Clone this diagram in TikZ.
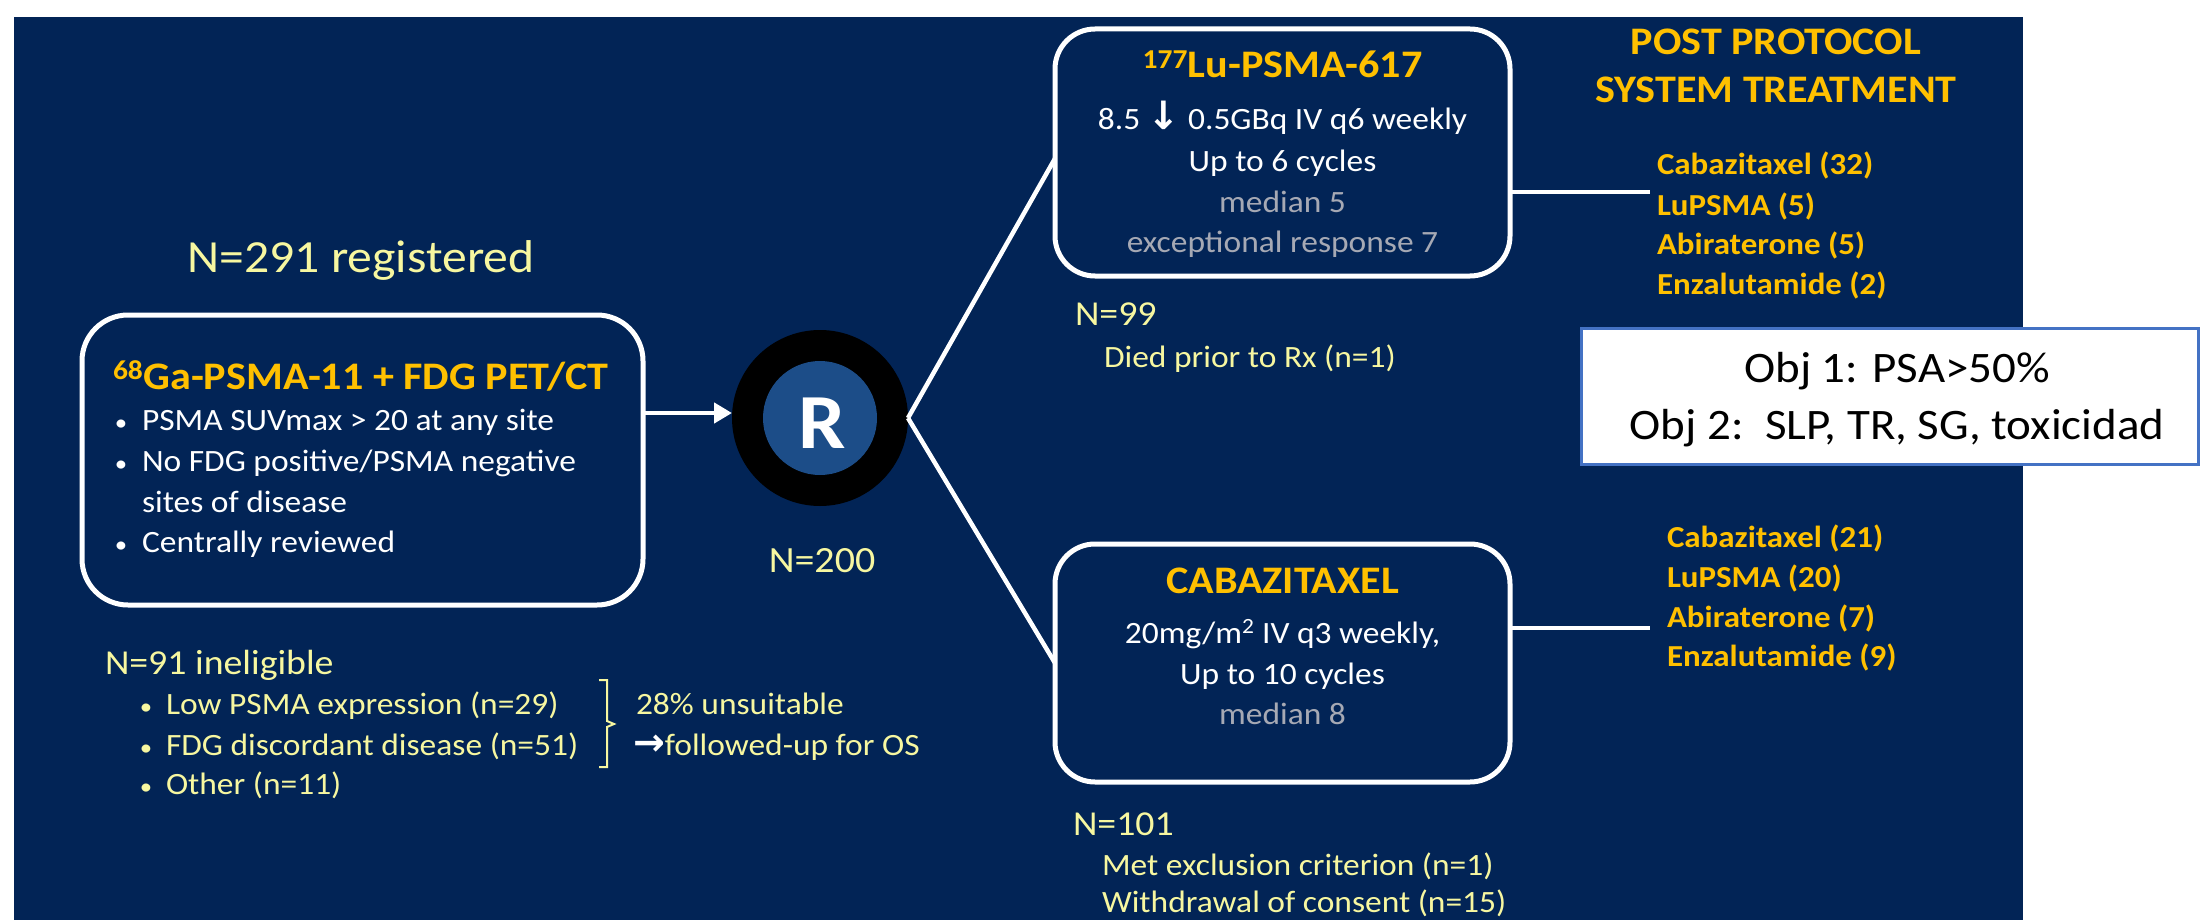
\documentclass[tikz,border=0pt]{standalone}
\usepackage{fontspec}
\setmainfont[FakeStretch=1.08]{Carlito}
\newfontfamily\arrowfont{DejaVu Sans}
\usetikzlibrary{arrows.meta}
\definecolor{navy}{HTML}{022456}
\definecolor{paleyel}{HTML}{F7F7A0}
\definecolor{gold}{HTML}{FFC000}
\definecolor{softgrey}{HTML}{A6A9B4}
\definecolor{rblue}{HTML}{1C4D88}
\definecolor{objblue}{HTML}{4472C4}
\newcommand{\setfs}[1]{\fontsize{#1}{#1}\selectfont}
\newcommand{\blt}{{\setfs{23}\textbullet}}

\begin{document}
\begin{tikzpicture}[x=1pt,y=-1pt,
  lbl/.style={inner sep=0pt, outer sep=0pt},
  pale/.style={lbl, text=paleyel, font=\setfs{31}},
  nlbl/.style={lbl, text=paleyel, font=\setfs{35}},
  body/.style={lbl, text=white, font=\setfs{31}},
  note/.style={lbl, text=softgrey, font=\setfs{31}},
  head/.style={lbl, text=gold, font=\setfs{39}\bfseries},
  rx/.style={lbl, text=gold, font=\setfs{30.5}\bfseries},
  obj/.style={lbl, text=black, font=\setfs{43.5}},
  stagebox/.style={draw=white, line width=5pt, rounded corners=40pt, fill=navy, inner sep=0pt, outer sep=0pt},
  wire/.style={draw=white, line width=4.5pt},
]
\useasboundingbox (0,0) rectangle (2200,920);
% page and slide background
\fill[white] (0,0) rectangle (2200,920);
\fill[navy] (14,17) rectangle (2023,920);

% ---------- screening ----------
\node[lbl, text=paleyel, font=\setfs{46}, anchor=base] (reg) at (361,272) {N=291 registered};
\node[stagebox, rounded corners=46pt, minimum width=561pt, minimum height=290pt] (ga) at (362.5,460) {};
\node[head, anchor=base west] (gatitle) at (113,389) {\textsuperscript{68}Ga-PSMA-11 + FDG PET/CT};
\node[body, anchor=base] (gab1) at (121,430) {\blt};
\node[body, anchor=base west] (gat1) at (142,430) {PSMA SUVmax > 20 at any site};
\node[body, anchor=base] (gab2) at (121,471) {\blt};
\node[body, anchor=base west] (gat2) at (142,471) {No FDG positive/PSMA negative};
\node[body, anchor=base west] (gat3) at (142,512) {sites of disease};
\node[body, anchor=base] (gab4) at (121,552) {\blt};
\node[body, anchor=base west] (gat4) at (142,552) {Centrally reviewed};

% ---------- ineligible ----------
\node[nlbl, anchor=base west] (inel) at (105,674) {N=91 ineligible};
\node[pale, anchor=base] (ib1) at (146,714) {\blt};
\node[pale, anchor=base west] (it1) at (166,714) {Low PSMA expression (n=29)};
\node[pale, anchor=base] (ib2) at (146,755) {\blt};
\node[pale, anchor=base west] (it2) at (166,755) {FDG discordant disease (n=51)};
\node[pale, anchor=base] (ib3) at (146,794) {\blt};
\node[pale, anchor=base west] (it3) at (166,794) {Other (n=11)};
\draw[paleyel, line width=2pt] (599,680) -- (607,680) -- (607,721) -- (614,724) -- (607,727) -- (607,767) -- (599,767);
\node[pale, anchor=base west] (unsuit) at (636,714) {28\% unsuitable};
\node[pale, anchor=base west] (fup) at (633,755) {{\arrowfont\bfseries\color{white}\setfs{38}→}followed-up for OS};

% ---------- randomisation ----------
\node[circle, fill=black, minimum size=176pt, inner sep=0pt, outer sep=0pt] (Rc) at (820,418) {};
\node[circle, fill=rblue, minimum size=114pt, inner sep=0pt] (Rin) at (Rc) {};
\node[lbl, text=white, font=\setfs{78}\bfseries, anchor=base] (Rlet) at (822,448) {R};
\node[lbl, text=paleyel, font=\setfs{37}, anchor=base] (n200) at (822,572) {N=200};

\draw[wire, -{Triangle[length=18pt,width=20pt]}] ([yshift=5pt]ga.east |- Rc.west) -- ([yshift=5pt]Rc.west);

% ---------- arms ----------
\node[stagebox, minimum width=455pt, minimum height=247pt] (lu) at (1282.5,152.5) {};
\node[head, anchor=base] (lutitle) at (1282.5,78) {\textsuperscript{177}Lu-PSMA-617};
\node[body, anchor=base] (lu1) at (1282.5,130) {8.5 {\arrowfont\bfseries\setfs{39}↓} 0.5GBq IV q6 weekly};
\node[body, anchor=base] (lu2) at (1282.5,172) {Up to 6 cycles};
\node[note, anchor=base] (lu3) at (1282.5,213) {median 5};
\node[note, anchor=base] (lu4) at (1282.5,252) {exceptional response 7};

\node[stagebox, minimum width=455pt, minimum height=238pt] (cab) at (1282.5,663) {};
\node[head, anchor=base] (cabtitle) at (1282.5,593) {CABAZITAXEL};
\node[body, anchor=base] (cab1) at (1282.5,643) {20mg/m\textsuperscript{2} IV q3 weekly,};
\node[body, anchor=base] (cab2) at (1282.5,684) {Up to 10 cycles};
\node[note, anchor=base] (cab3) at (1282.5,724) {median 8};

\draw[wire] (Rc.east) -- ([yshift=-6pt]lu.west);
\draw[wire] (Rc.east) -- (cab.west);

\node[nlbl, anchor=base west] (n99) at (1075,325) {N=99};
\node[pale, anchor=base west] (died) at (1104,367) {Died prior to Rx (n=1)};
\node[nlbl, anchor=base west] (n101) at (1073,835) {N=101};
\node[pale, anchor=base west] (excl) at (1102,875) {Met exclusion criterion (n=1)};
\node[pale, anchor=base west] (wdr) at (1102,912) {Withdrawal of consent (n=15)};

% ---------- post-protocol treatment ----------
\node[head, anchor=base] (pp1) at (1776,55) {POST PROTOCOL};
\node[head, anchor=base] (pp2) at (1776,103) {SYSTEM TREATMENT};

\coordinate (luend) at (1650,192);
\draw[wire] (lu.east |- luend) -- (luend);
\node[rx, anchor=base west] (la) at (1657,175) {Cabazitaxel (32)};
\node[rx, anchor=base west] (lb) at (1657,215) {LuPSMA (5)};
\node[rx, anchor=base west] (lc) at (1657,254) {Abiraterone (5)};
\node[rx, anchor=base west] (ld) at (1657,294) {Enzalutamide (2)};

\coordinate (cabend) at (1650,628);
\draw[wire] (cab.east |- cabend) -- (cabend);
\node[rx, anchor=base west] (ca) at (1667,547) {Cabazitaxel (21)};
\node[rx, anchor=base west] (cb) at (1667,587) {LuPSMA (20)};
\node[rx, anchor=base west] (cc) at (1667,627) {Abiraterone (7)};
\node[rx, anchor=base west] (cd) at (1667,666) {Enzalutamide (9)};

% ---------- objectives ----------
\node[draw=objblue, line width=3pt, fill=white, minimum width=617pt, minimum height=136pt, inner sep=0pt] (objbox) at (1889.5,396) {};
\node[obj, anchor=base] (obj1) at (1897,382) {Obj 1: PSA>50\%};
\node[obj, anchor=base] (obj2) at (1897,439) {Obj 2:\ \ SLP, TR, SG, toxicidad};
\end{tikzpicture}
\end{document}
